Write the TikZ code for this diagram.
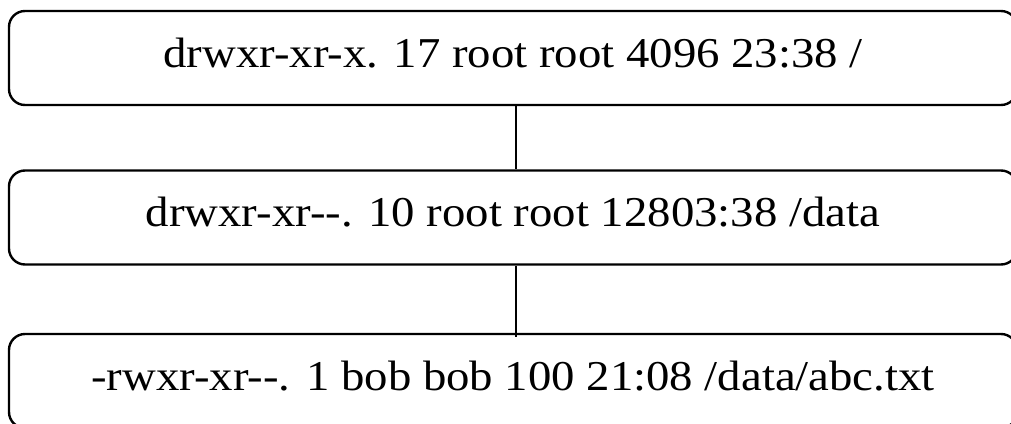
\documentclass[tikz,border=0pt]{standalone}
\usepackage{fontspec}
\setmainfont[FakeStretch=1.1,Ligatures=TeXOff]{Liberation Serif}
\begin{document}
\begin{tikzpicture}[x=1pt,y=1pt,
  box/.style={draw, line width=2.4pt, rounded corners=16pt, minimum width=1008pt,
    minimum height=94pt, inner sep=0pt, text height=29pt, text depth=11pt,
    font=\fontsize{42.5}{50}\selectfont},
  link/.style={draw, line width=2.4pt}]
\useasboundingbox (0,0) rectangle (1011,-423);
\fill[white] (0,0) rectangle (1011,-423);
\node[box] (b1) at (513,-58) {drwxr-xr-x. 17 root root 4096 23:38 /};
\node[box] (b2) at (513,-217.5) {drwxr-xr--. 10 root root 12803:38 /data};
\node[box] (b3) at (513,-381) {-rwxr-xr--. 1 bob bob 100 21:08 /data/abc.txt};
\draw[link] ([xshift=3pt]b1.south) -- ([xshift=3pt]b2.north);
\draw[link] ([xshift=3pt]b2.south) -- ([xshift=3pt,yshift=-4pt]b3.north);
\end{tikzpicture}
\end{document}
